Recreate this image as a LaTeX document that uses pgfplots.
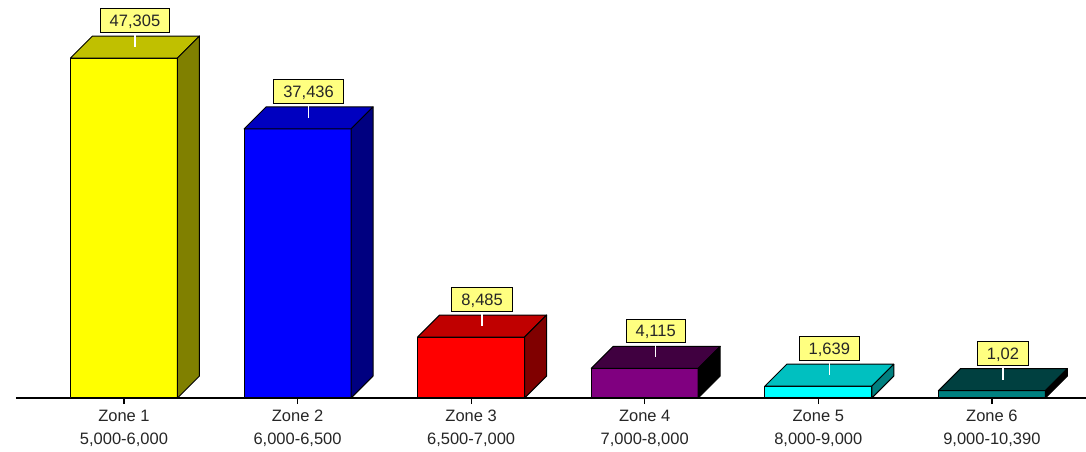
\documentclass[border=0pt]{standalone}
\usepackage{fontspec}
\setmainfont{Liberation Sans}
\usepackage{pgfplots}
\pgfplotsset{compat=1.18}

\definecolor{f1}{HTML}{FFFF00}\definecolor{t1}{HTML}{C0C000}\definecolor{s1}{HTML}{808000}
\definecolor{f2}{HTML}{0000FF}\definecolor{t2}{HTML}{0000C0}\definecolor{s2}{HTML}{000080}
\definecolor{f3}{HTML}{FF0000}\definecolor{t3}{HTML}{C00000}\definecolor{s3}{HTML}{800000}
\definecolor{f4}{HTML}{800080}\definecolor{t4}{HTML}{400040}\definecolor{s4}{HTML}{000000}
\definecolor{f5}{HTML}{00FFFF}\definecolor{t5}{HTML}{00C0C0}\definecolor{s5}{HTML}{008080}
\definecolor{f6}{HTML}{008080}\definecolor{t6}{HTML}{004040}\definecolor{s6}{HTML}{000000}
\definecolor{labfill}{HTML}{FFFF80}

% depth of the 3-D effect in axis units: 22px horizontally and vertically
\newcommand\dxu{0.1267}
\newcommand\dyu{3061}
\newcommand\hw{0.3082}

% #1 category position, #2 value, #3 front, #4 top, #5 side colour
\newcommand\tdbar[5]{%
  \edef\xa{\fpeval{#1-\hw}}%
  \edef\xb{\fpeval{#1+\hw}}%
  \edef\xc{\fpeval{#1-\hw+\dxu}}%
  \edef\xd{\fpeval{#1+\hw+\dxu}}%
  \edef\yt{\fpeval{#2+\dyu}}%
  \addplot[fill=#3, draw=black, line width=1pt, line join=round] coordinates {(\xa,0) (\xb,0) (\xb,#2) (\xa,#2)} -- cycle;
  \addplot[fill=#4, draw=black, line width=1pt, line join=round] coordinates {(\xa,#2) (\xc,\yt) (\xd,\yt) (\xb,#2)} -- cycle;
  \addplot[fill=#5, draw=black, line width=1pt, line join=round] coordinates {(\xb,0) (\xd,\dyu) (\xd,\yt) (\xb,#2)} -- cycle;
}

\pgfplotstableread{
x v lab
0 47305 {47,305}
1 37436 {37,436}
2 8485 {8,485}
3 4115 {4,115}
4 1639 {1,639}
5 1020 {1,02}
}\data

\begin{document}
\begin{tikzpicture}
\useasboundingbox (-16pt,-54pt) rectangle (1070pt,398pt);
\begin{axis}[
  at={(0,0)}, anchor=south west,
  scale only axis, width=1070pt, height=398pt,
  xmin=-0.622, xmax=5.542, ymin=0, ymax=55377,
  axis x line*=bottom, axis y line=none,
  axis line style={line width=1.2pt, black},
  xtick={0,1,2,3,4,5},
  xticklabels={{Zone 1\\5,000-6,000},{Zone 2\\6,000-6,500},{Zone 3\\6,500-7,000},{Zone 4\\7,000-8,000},{Zone 5\\8,000-9,000},{Zone 6\\9,000-10,390}},
  xticklabel style={align=center, font=\fontsize{16.5}{23}\selectfont, inner sep=0pt, text=black!85, yshift=-6pt},
  tick align=outside, major tick length=6pt,
  xtick style={line width=1.2pt, black},
  clip=false,
]
\tdbar{0}{47305}{f1}{t1}{s1}
\tdbar{1}{37436}{f2}{t2}{s2}
\tdbar{2}{8485}{f3}{t3}{s3}
\tdbar{3}{4115}{f4}{t4}{s4}
\tdbar{4}{1639}{f5}{t5}{s5}
\tdbar{5}{1020}{f6}{t6}{s6}
\addplot[draw=none, mark=none, nodes near coords, point meta=explicit symbolic,
  every node near coord/.style={anchor=south, xshift=11pt, yshift=25pt,
    fill=labfill, draw=black, line width=1pt, font=\fontsize{16.5}{20}\selectfont,
    inner xsep=9.5pt, inner ysep=6pt, text height=11.8pt, text depth=0pt, text=black!85,
    append after command={(\tikzlastnode.south) edge[draw=white, line width=1.4pt] ([yshift=-14pt]\tikzlastnode.south)}}]
  table[x=x, y=v, meta=lab] {\data};
\end{axis}
\end{tikzpicture}
\end{document}
